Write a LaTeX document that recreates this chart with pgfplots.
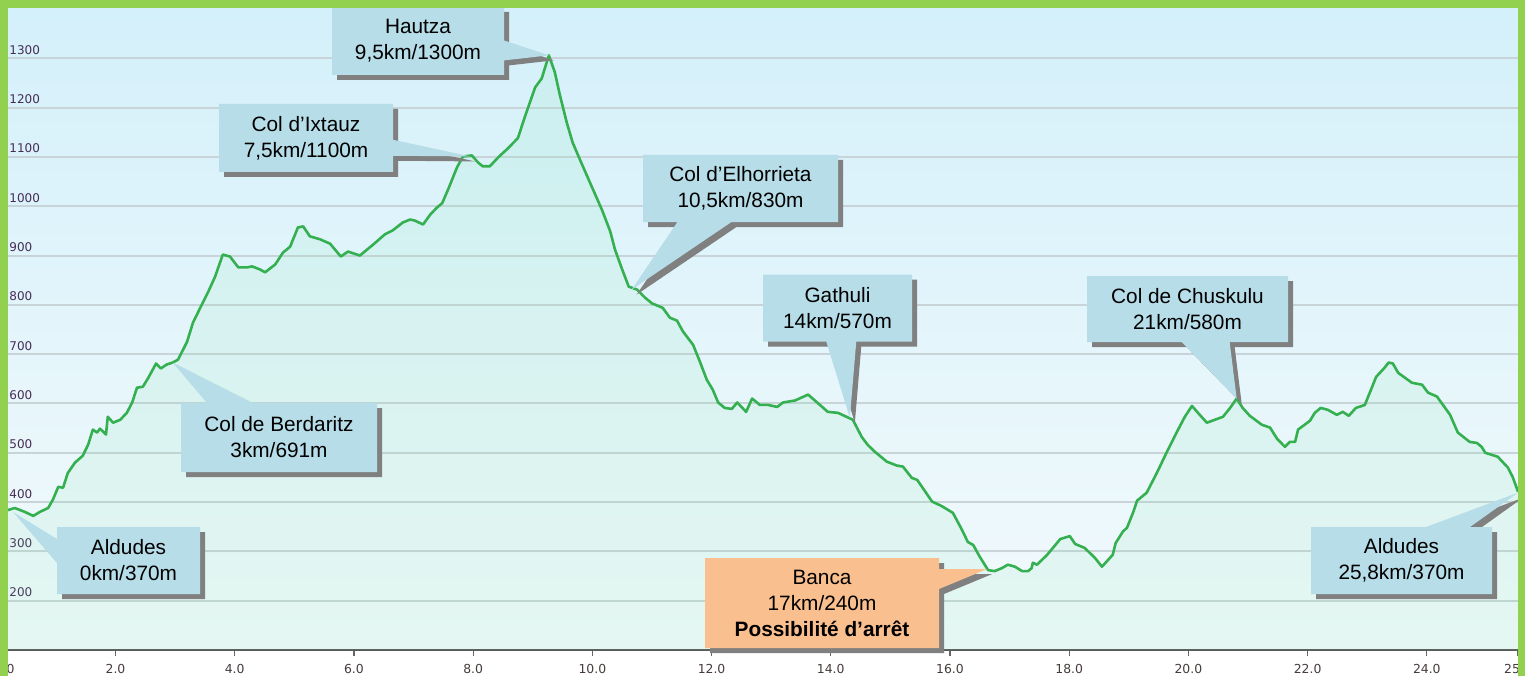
\documentclass[border=0pt]{standalone}
\usepackage{pgfplots}
\pgfplotsset{compat=1.18}
\usepackage{pgfplotstable}
\usepackage{fontspec}
\setmainfont{Liberation Sans}
\newfontfamily\dejavu{DejaVu Sans}
\usetikzlibrary{shapes.callouts,shadows}

\definecolor{framegreen}{RGB}{146,208,80}
\definecolor{curvegreen}{RGB}{52,176,80}
\definecolor{fillgreen}{RGB}{110,225,160}
\definecolor{callblue}{RGB}{183,221,232}
\definecolor{callorange}{RGB}{250,191,143}
\definecolor{shadowgray}{RGB}{128,128,128}
\definecolor{bgtop}{RGB}{212,240,250}
\definecolor{bgbot}{RGB}{243,250,252}
\definecolor{gridc}{RGB}{200,212,216}
\definecolor{ylab}{RGB}{70,45,85}
\definecolor{xlab}{RGB}{70,60,60}

\pgfplotstableread{
km m
0 384
0.20 384
0.31 388
0.48 380
0.62 372
0.73 380
0.87 388
0.95 405
1.04 431
1.12 429
1.20 459
1.32 480
1.45 494
1.54 516
1.62 547
1.69 541
1.74 549
1.84 537
1.87 573
1.96 561
2.08 567
2.19 581
2.28 602
2.36 632
2.46 634
2.55 652
2.68 681
2.76 671
2.86 679
2.96 683
3.05 689
3.20 725
3.30 764
3.45 801
3.55 825
3.67 857
3.80 902
3.92 898
4.06 876
4.21 876
4.29 878
4.42 872
4.51 866
4.68 882
4.81 906
4.93 918
5.06 957
5.15 959
5.26 939
5.43 933
5.60 924
5.78 898
5.90 908
6.10 900
6.32 922
6.52 943
6.65 951
6.82 967
6.94 973
7.02 971
7.16 963
7.28 983
7.39 997
7.48 1006
7.58 1034
7.73 1079
7.83 1101
7.98 1103
8.08 1089
8.16 1081
8.28 1081
8.42 1099
8.58 1117
8.75 1138
8.87 1182
9.04 1241
9.15 1259
9.27 1306
9.37 1272
9.46 1223
9.57 1170
9.67 1129
9.79 1095
9.96 1048
10.16 993
10.30 949
10.38 912
10.50 872
10.61 837
10.75 831
10.88 815
11.00 803
11.18 794
11.30 774
11.42 768
11.52 746
11.69 719
11.81 683
11.92 648
12.02 628
12.11 602
12.22 591
12.34 589
12.43 602
12.58 583
12.68 610
12.81 597
12.95 597
13.10 593
13.20 602
13.40 606
13.62 618
13.95 583
14.12 581
14.37 567
14.52 532
14.62 516
14.74 502
14.94 482
15.11 474
15.21 472
15.36 449
15.45 445
15.70 401
15.86 392
16.05 378
16.20 344
16.30 319
16.39 313
16.50 289
16.64 262
16.75 260
16.87 266
16.97 273
17.09 269
17.21 260
17.31 260
17.37 266
17.39 277
17.46 273
17.63 293
17.85 325
18.01 331
18.10 315
18.26 307
18.43 287
18.55 269
18.73 293
18.78 317
18.90 340
18.97 348
19.07 378
19.14 403
19.30 419
19.47 459
19.64 502
19.81 543
19.94 573
20.06 595
20.19 577
20.31 561
20.58 573
20.70 591
20.81 610
20.91 591
21.03 575
21.23 557
21.37 551
21.49 528
21.62 512
21.70 522
21.79 522
21.84 547
22.04 565
22.12 581
22.22 591
22.34 587
22.49 577
22.59 583
22.69 575
22.81 591
22.96 597
23.15 654
23.28 671
23.36 683
23.43 681
23.52 662
23.75 642
23.92 638
24.02 622
24.17 614
24.39 577
24.52 541
24.72 522
24.84 520
24.92 512
24.98 500
25.19 492
25.36 470
25.44 451
25.53 421
}\profile

\tikzset{
  calloutbox/.style={rectangle callout, fill=callblue, draw=none, align=center,
    inner sep=0pt, font=\fontsize{10.4}{13}\selectfont,
    drop shadow={shadow xshift=2.5pt, shadow yshift=-2.5pt, fill=shadowgray, opacity=1}},
}

\begin{document}
\begin{tikzpicture}
\useasboundingbox (0,0) rectangle (762.5pt,338pt);
\begin{axis}[
  scale only axis, width=760.85pt, height=320.5pt,
  at={(-1.85pt,13pt)}, anchor=south west,
  xmin=0, xmax=25.53, ymin=100, ymax=1400,
  axis x line*=bottom, axis y line*=left,
  y axis line style={draw=none},
  x axis line style={draw=black!65, line width=1pt, -},
  axis background/.style={top color=bgtop, bottom color=bgbot},
  xtick={0.14,2,4,6,8,10,12,14,16,18,20,22,24,25.53},
  xticklabels={0.0,2.0,4.0,6.0,8.0,10.0,12.0,14.0,16.0,18.0,20.0,22.0,24.0,25.5},
  ytick={200,300,400,500,600,700,800,900,1000,1100,1200,1300},
  yticklabels={200,300,400,500,600,700,800,900,1000,1100,1200,1300},
  ymajorgrids, major grid style={draw=gridc, line width=1pt},
  tick align=outside, major tick length=3pt,
  ytick style={draw=none},
  xtick style={draw=black!60, line width=0.6pt},
  /pgf/number format/assume math mode=true,
  xticklabel style={font=\dejavu\fontsize{6.2}{7}\selectfont, text=xlab, anchor=base, inner sep=0pt, yshift=-8.5pt},
  yticklabel style={font=\dejavu\fontsize{6}{7}\selectfont, text=ylab, anchor=base west, inner sep=0pt, xshift=9.35pt, yshift=2pt},
]
\addplot[draw=none, fill=fillgreen, fill opacity=0.10] table[x=km,y=m] {\profile} \closedcycle;
\addplot[draw=curvegreen, line width=1.3pt, mark=none, line join=round] table[x=km,y=m] {\profile};
\coordinate (tA) at (axis cs:0.28,380);
\coordinate (tB) at (axis cs:2.96,683);
\coordinate (tI) at (axis cs:7.95,1101);
\coordinate (tH) at (axis cs:9.27,1306);
\coordinate (tE) at (axis cs:10.66,831);
\coordinate (tG) at (axis cs:14.32,571);
\coordinate (tC) at (axis cs:20.81,610);
\coordinate (tZ) at (axis cs:25.53,419);
\coordinate (tK) at (axis cs:16.62,264);
\end{axis}

\node[calloutbox, minimum width=71.5pt, minimum height=33.5pt, callout absolute pointer={(tA)}, callout pointer width=12pt] at (64.25pt,57.75pt) {Aldudes\\0km/370m};
\node[calloutbox, minimum width=98pt, minimum height=34.5pt, callout absolute pointer={(tB)}, callout pointer width=23pt] at (139.5pt,119.25pt) {Col de Berdaritz\\3km/691m};
\node[calloutbox, minimum width=87pt, minimum height=34pt, callout absolute pointer={(tI)}, callout pointer width=8pt] at (153pt,269pt) {Col d’Ixtauz\\7,5km/1100m};
\node[calloutbox, minimum width=86pt, minimum height=34pt, callout absolute pointer={(tH)}, callout pointer width=10pt] at (209pt,317.5pt) {Hautza\\9,5km/1300m};
\node[calloutbox, minimum width=97.5pt, minimum height=33.5pt, callout absolute pointer={(tE)}, callout pointer width=27pt] at (370.25pt,243.75pt) {Col d’Elhorrieta\\10,5km/830m};
\node[calloutbox, minimum width=74.5pt, minimum height=33.5pt, callout absolute pointer={(tG)}, callout pointer width=15pt] at (418.75pt,184pt) {Gathuli\\14km/570m};
\node[calloutbox, minimum width=100.5pt, minimum height=33pt, callout absolute pointer={(tC)}, callout pointer width=24pt] at (593.75pt,183.5pt) {Col de Chuskulu\\21km/580m};
\node[calloutbox, minimum width=90.5pt, minimum height=33.5pt, callout absolute pointer={(tZ)}, callout pointer width=22pt] at (700.75pt,57.75pt) {Aldudes\\25,8km/370m};
\node[calloutbox, fill=callorange, minimum width=117pt, minimum height=45pt, callout absolute pointer={(tK)}, callout pointer width=10pt] at (411pt,36.5pt) {Banca\\17km/240m\\\textbf{Possibilité d’arrêt}};

\fill[framegreen] (0,0) rectangle (4pt,338pt);
\fill[framegreen] (0,334pt) rectangle (762.5pt,338pt);
\fill[framegreen] (759pt,0) rectangle (762.5pt,338pt);
\end{tikzpicture}
\end{document}
